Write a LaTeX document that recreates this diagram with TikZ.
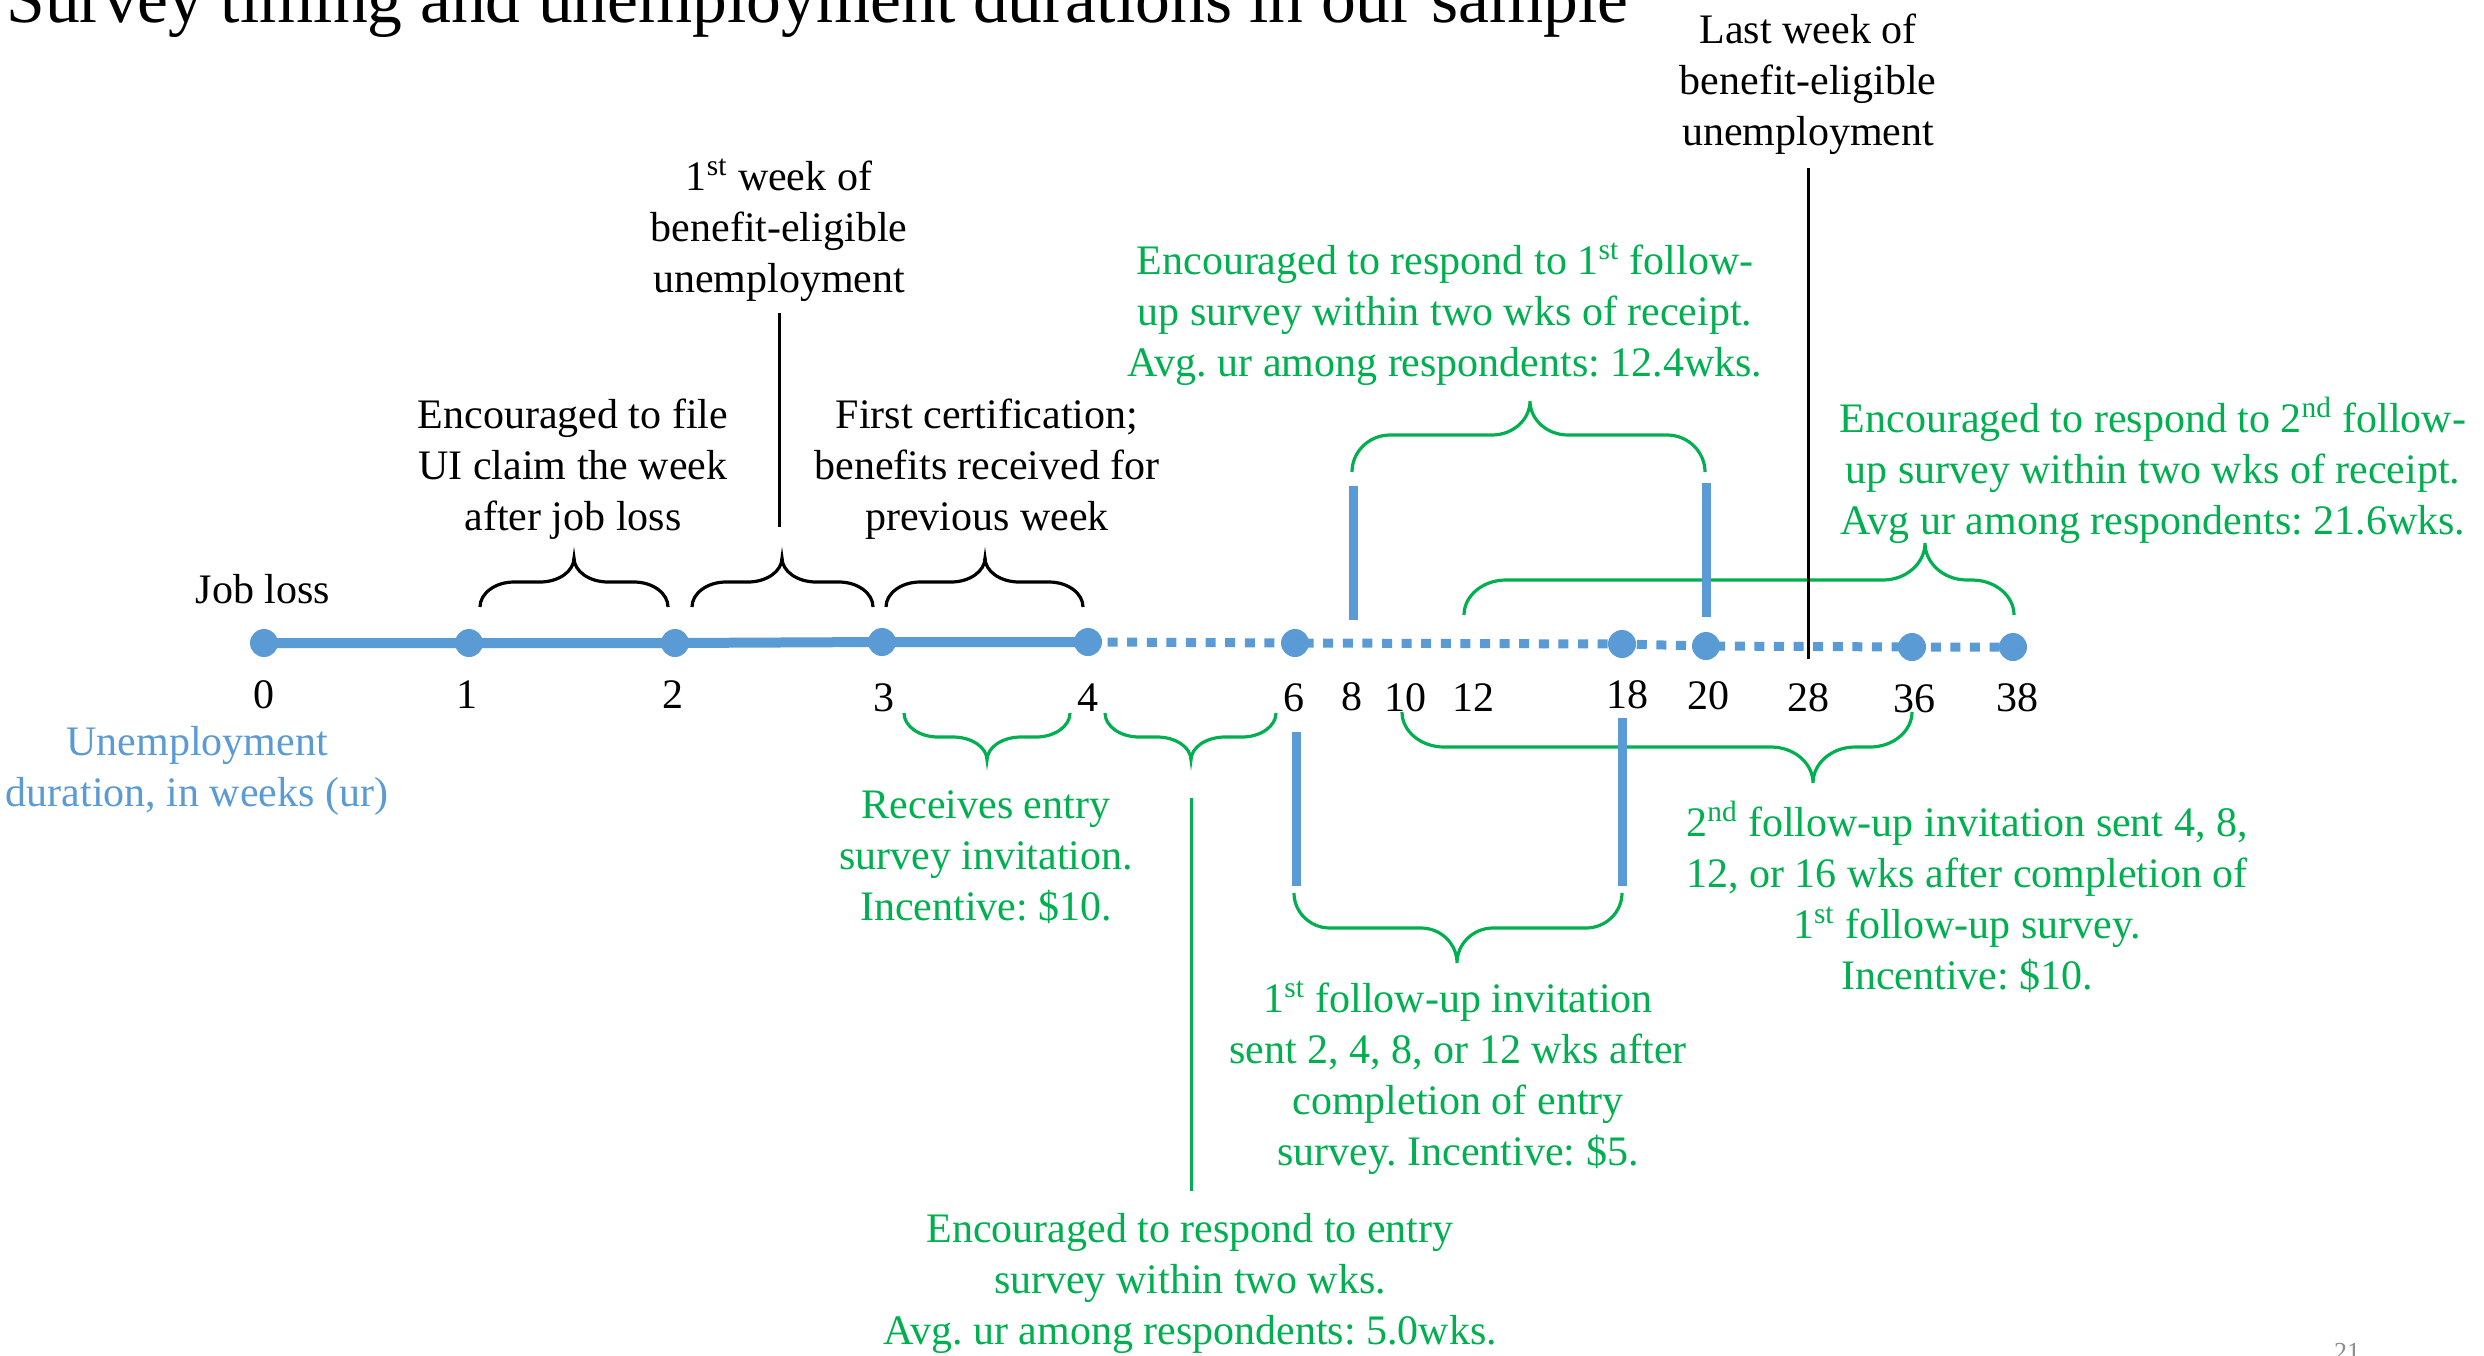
\documentclass[tikz,border=0pt]{standalone}
\usepackage{fontspec}
\setmainfont{Liberation Serif}
\frenchspacing
\definecolor{ublue}{HTML}{5B9BD5}
\definecolor{ugreen}{HTML}{00B050}
\definecolor{pgray}{HTML}{8C8C8C}
\newcommand{\tf}{\fontsize{21pt}{25.5pt}\selectfont}
% style, x1, x2, xm, yend, ymid, ytip, r
\newcommand{\pbrace}[8]{%
 \draw[#1] (#2,#5) .. controls (#2,{#5+0.55*(#6-#5)}) and ({#2+0.45*#8},#6) .. ({#2+#8},#6)
  -- ({#4-#8},#6) .. controls ({#4-0.45*#8},#6) and (#4,{#6+0.45*(#7-#6)}) .. (#4,#7)
  .. controls (#4,{#6+0.45*(#7-#6)}) and ({#4+0.45*#8},#6) .. ({#4+#8},#6)
  -- ({#3-#8},#6) .. controls ({#3-0.45*#8},#6) and (#3,{#5+0.55*(#6-#5)}) .. (#3,#5);}
\tikzset{
  dot/.style={circle,fill=ublue,inner sep=0pt,minimum size=14pt},
  solidline/.style={draw=ublue,line width=5pt},
  dotline/.style={draw=ublue,line width=4.5pt,dash pattern=on 5pt off 4.8pt},
  bbrace/.style={draw=black,line width=1.6pt},
  gbrace/.style={draw=ugreen,line width=1.6pt},
  bluebar/.style={draw=ublue,line width=4.5pt},
  blackbar/.style={draw=black,line width=1.5pt},
  greenbar/.style={draw=ugreen,line width=1.5pt},
  txt/.style={inner sep=0pt,align=center,font=\tf},
  tick/.style={inner sep=0pt,anchor=base,font=\tf},
}
\begin{document}
\begin{tikzpicture}[x=0.5pt,y=-0.5pt]
\useasboundingbox (0,0) rectangle (2484,1355);
\fill[white] (0,0) rectangle (2484,1355);

% title and page number
\node[inner sep=0pt,anchor=base west,font=\fontsize{34.8pt}{40pt}\selectfont] (title) at (6,22) {Survey timing and unemployment durations in our sample};
\node[inner sep=0pt,anchor=base,text=pgray,font=\fontsize{13pt}{15pt}\selectfont] (pagenum) at (2347,1360) {21};

% timeline coordinates
\coordinate (c0) at (264,643);
\coordinate (c1) at (469,643);
\coordinate (c2) at (675,643);
\coordinate (c3) at (882,642);
\coordinate (c4) at (1088,642);
\coordinate (c6) at (1295,643);
\coordinate (c18) at (1622,644);
\coordinate (c20) at (1706,646);
\coordinate (c36) at (1912,647);
\coordinate (c38) at (2013,647);

\draw[solidline] (c0) -- (c1) -- (c2) -- (c3) -- (c4);
\draw[dotline] (c4) -- (c6) -- (c18) -- (c20) -- (c36) -- (c38);

\foreach \c in {0,1,2,3,4,6,18,20,36,38} {\node[dot] (d\c) at (c\c) {};}

% tick labels
\node[tick] (t0) at (264,708) {0};
\node[tick] (t1) at (467,708) {1};
\node[tick] (t2) at (673,708) {2};
\node[tick] (t3) at (884,711) {3};
\node[tick] (t4) at (1088,711) {4};
\node[tick] (t6) at (1294,711) {6};
\node[tick] (t8) at (1352,710) {8};
\node[tick] (t10) at (1405,711) {10};
\node[tick] (t12) at (1473,711) {12};
\node[tick] (t18) at (1627,708) {18};
\node[tick] (t20) at (1708,709) {20};
\node[tick] (t28) at (1808,711) {28};
\node[tick] (t36) at (1914,712) {36};
\node[tick] (t38) at (2017,711) {38};

% black texts
\node[tick] (jobloss) at (263,603) {Job loss};
\node[txt] (lastwk) at (1808,84) {Last week of\\benefit-eligible\\unemployment};
\node[txt] (firstwk) at (779,230) {1\textsuperscript{st} week of\\benefit-eligible\\unemployment};
\node[txt] (file) at (573,469) {Encouraged to file\\UI claim the week\\after job loss};
\node[txt] (cert) at (987,469) {First certification;\\benefits received for\\previous week};

% blue label
\node[txt,text=ublue] (urlab) at (197,771) {Unemployment\\duration, in weeks (ur)};

% green texts
\node[txt,text=ugreen] (entry) at (986,857) {Receives entry\\survey invitation.\\Incentive: \$10.};
\node[txt,text=ugreen] (entryresp) at (1190,1283) {Encouraged to respond to entry\\survey within two wks.\\Avg. ur among respondents: 5.0wks.};
\node[txt,text=ugreen] (fu1) at (1458,1078) {1\textsuperscript{st} follow-up invitation\\sent 2, 4, 8, or 12 wks after\\completion of entry\\survey. Incentive: \$5.};
\node[txt,text=ugreen] (fu2) at (1967,897) {2\textsuperscript{nd} follow-up invitation sent 4, 8,\\12, or 16 wks after completion of\\1\textsuperscript{st} follow-up survey.\\Incentive: \$10.};
\node[txt,text=ugreen] (resp1) at (1445,314) {Encouraged to respond to 1\textsuperscript{st} follow-\\up survey within two wks of receipt.\\Avg. ur among respondents: 12.4wks.};
\node[txt,text=ugreen] (resp2) at (2153,470) {Encouraged to respond to 2\textsuperscript{nd} follow-\\up survey within two wks of receipt.\\Avg ur among respondents: 21.6wks.};

% black braces
\pbrace{bbrace}{480}{668}{574}{607}{582}{558}{34}
\pbrace{bbrace}{692}{873}{782}{607}{582}{558}{34}
\pbrace{bbrace}{886}{1083}{985}{607}{582}{558}{34}

% green braces
\pbrace{gbrace}{904}{1070}{987}{713}{737}{760}{34}
\pbrace{gbrace}{1105}{1276}{1191}{713}{737}{760}{34}
\pbrace{gbrace}{1294}{1622}{1457}{893}{928}{963}{36}
\pbrace{gbrace}{1402}{1912}{1813}{712}{747}{783}{42}
\pbrace{gbrace}{1352}{1705}{1530}{472}{435}{401}{38}
\pbrace{gbrace}{1464}{2014}{1925}{615}{580}{543}{42}

% blue bars
\coordinate (b8t) at (1353,486);  \coordinate (b8b) at (1353,620);
\coordinate (b20t) at (1706,483); \coordinate (b20b) at (1706,617);
\coordinate (b6t) at (1296,732);  \coordinate (b6b) at (1296,886);
\coordinate (b18t) at (1622,718); \coordinate (b18b) at (1622,886);
\draw[bluebar] (b8t) -- (b8b);
\draw[bluebar] (b20t) -- (b20b);
\draw[bluebar] (b6t) -- (b6b);
\draw[bluebar] (b18t) -- (b18b);

% black and green connector lines
\coordinate (fwtop) at (779,313); \coordinate (fwbot) at (779,527);
\coordinate (lwtop) at (1808,168); \coordinate (lwbot) at (1808,659);
\coordinate (gtop) at (1191,798); \coordinate (gbot) at (1191,1191);
\draw[blackbar] (fwtop) -- (fwbot);
\draw[blackbar] (lwtop) -- (lwbot);
\draw[greenbar] (gtop) -- (gbot);
\end{tikzpicture}
\end{document}
